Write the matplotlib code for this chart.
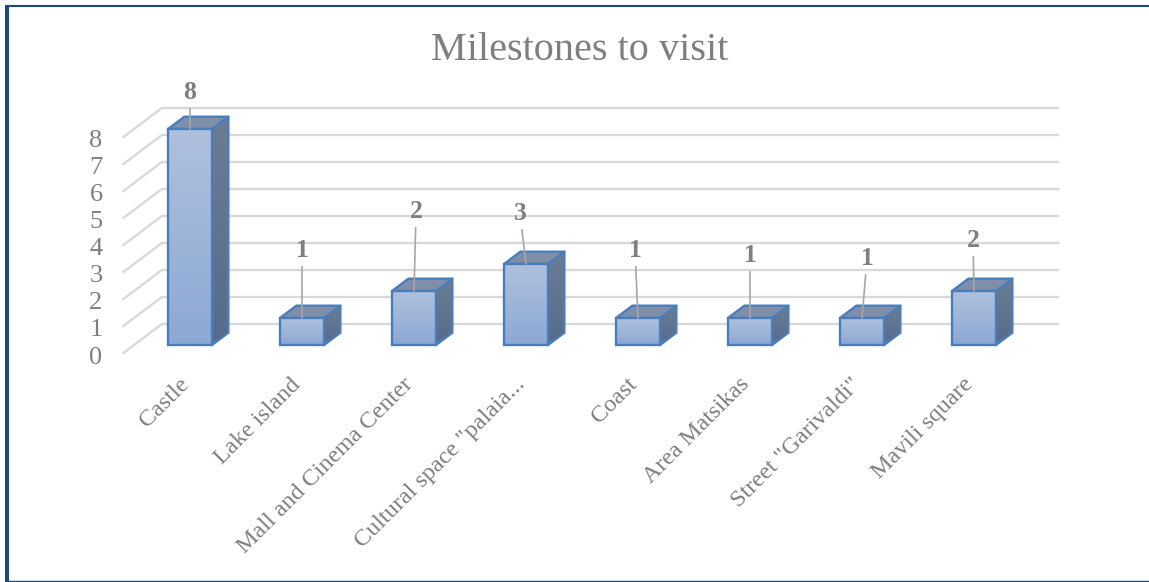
import matplotlib
matplotlib.use("Agg")
import matplotlib.pyplot as plt
import numpy as np
from matplotlib.patches import Polygon
from matplotlib.transforms import ScaledTranslation

# Data
categories = ["Castle", "Lake island", "Mall and Cinema Center", 'Cultural space "palaia...',
              "Coast", "Area Matsikas", 'Street "Garivaldi"', "Mavili square"]
values = [8, 1, 2, 3, 1, 1, 1, 2]

# where the data labels were dragged to, pixels from the top of each bar
label_dx = [0, 0, 2, -6, -3, 0, 5, -1]
label_dy = [36, 67, 79, 50, 67, 62, 59, 50]

W, H = 1149, 582
GREY = "#7F7F7F"
plt.rcParams["font.family"] = ["Liberation Serif", "DejaVu Serif"]

fig = plt.figure(figsize=(W / 100, H / 100), dpi=100, facecolor="white")
ax = fig.add_axes([123.4 / W, 1 - 353 / H, 896 / W, 216 / H])
ax.set_xlim(-0.5, 7.5)
ax.set_ylim(0, 8)
ax.patch.set_visible(False)
for s in ax.spines.values():
    s.set_visible(False)

# depth of the fake 3d box, in data units
DX = 38.5 / 112
DY = 29 / 27
BAR_FRONT = 0.276
BAR_BACK = 0.70
BAR_W = 44 / 112


def proj(x, y, d):
    return x + d * DX, y + d * DY


# walls
for v in range(9):
    x0, y0 = proj(-0.5, v, 0)
    x1, y1 = proj(-0.5, v, 1)
    x2, y2 = proj(7.5, v, 1)
    ax.plot([x0, x1, x2], [y0, y1, y2], color="#D9D9D9", lw=1.7, clip_on=False,
            zorder=1, solid_joinstyle="miter")

front_cmap = matplotlib.colors.LinearSegmentedColormap.from_list("f", ["#8CA9D4", "#AFC0DD"])
side_cmap = matplotlib.colors.LinearSegmentedColormap.from_list("s", ["#566B8C", "#6C7C94"])
grad = np.linspace(0, 1, 64).reshape(-1, 1)
EDGE = "#4A7EBB"

for i, v in enumerate(values):
    xl, xr = i - BAR_W / 2, i + BAR_W / 2
    fl, fb = proj(xl, 0, BAR_FRONT)
    fr, ft = proj(xr, v, BAR_FRONT)
    bl, _ = proj(xl, 0, BAR_BACK)
    br, bt = proj(xr, v, BAR_BACK)
    _, bb = proj(xr, 0, BAR_BACK)

    side = Polygon([(fr, fb), (br, bb), (br, bt), (fr, ft)], closed=True, fc="none",
                   ec=EDGE, lw=1.7, clip_on=False, zorder=4, joinstyle="round")
    im = ax.imshow(grad, cmap=side_cmap, origin="lower", aspect="auto",
                   extent=(fr, br, fb, bt), zorder=3)
    ax.add_patch(side)
    im.set_clip_box(fig.bbox)
    im.set_clip_path(side)

    top = Polygon([(fl, ft), (fr, ft), (br, bt), (bl, bt)], closed=True, fc="#7F8FA9",
                  ec=EDGE, lw=1.7, clip_on=False, zorder=4, joinstyle="round")
    ax.add_patch(top)

    front = Polygon([(fl, fb), (fr, fb), (fr, ft), (fl, ft)], closed=True, fc="none",
                    ec=EDGE, lw=1.7, clip_on=False, zorder=6, joinstyle="miter")
    im = ax.imshow(grad, cmap=front_cmap, origin="lower", aspect="auto",
                   extent=(fl, fr, fb, ft), zorder=5)
    ax.add_patch(front)
    im.set_clip_box(fig.bbox)
    im.set_clip_path(front)

    # data label with leader line
    px = proj(i, v, BAR_FRONT)
    ax.annotate(str(v), xy=px, xytext=(label_dx[i], label_dy[i]), textcoords="offset pixels",
                ha="center", va="center", fontsize=18.5, fontweight="bold", color=GREY,
                annotation_clip=False, zorder=8,
                arrowprops=dict(arrowstyle="-", color="#A6A6A6", lw=1.2, shrinkA=1, shrinkB=0))

ax.set_xlim(-0.5, 7.5)
ax.set_ylim(0, 8)

ax.set_yticks(range(9))
ax.set_xticks(range(8))
ax.set_xticklabels(categories)
ax.tick_params(axis="both", length=0)
ax.tick_params(axis="y", labelsize=19, labelcolor=GREY, pad=15)
ax.tick_params(axis="x", labelsize=17.4, labelcolor=GREY, pad=0)
yshift = ScaledTranslation(0, -2 / 100, fig.dpi_scale_trans)
for lab in ax.get_yticklabels():
    lab.set_transform(lab.get_transform() + yshift)
shift = ScaledTranslation(-1 / 100, -21 / 100, fig.dpi_scale_trans)
for lab in ax.get_xticklabels():
    lab.set_rotation(45)
    lab.set_ha("right")
    lab.set_va("top")
    lab.set_rotation_mode("anchor")
    lab.set_transform(lab.get_transform() + shift)

fig.text(580 / W, 1 - 51 / H, "Milestones to visit", ha="center", va="center",
         fontsize=29, color=GREY)

# frame of the page
BLUE = "#1F497D"
fig.add_artist(plt.Line2D([7 / W, 7 / W], [0, 1 - 5 / H], color=BLUE, lw=2.9, solid_capstyle="butt"))
fig.add_artist(plt.Line2D([5 / W, 1], [1 - 6 / H, 1 - 6 / H], color=BLUE, lw=1.5, solid_capstyle="butt"))
fig.add_artist(plt.Line2D([5 / W, 1], [0.7 / H, 0.7 / H], color=BLUE, lw=1, solid_capstyle="butt"))

fig.savefig("out.png", dpi=100)
